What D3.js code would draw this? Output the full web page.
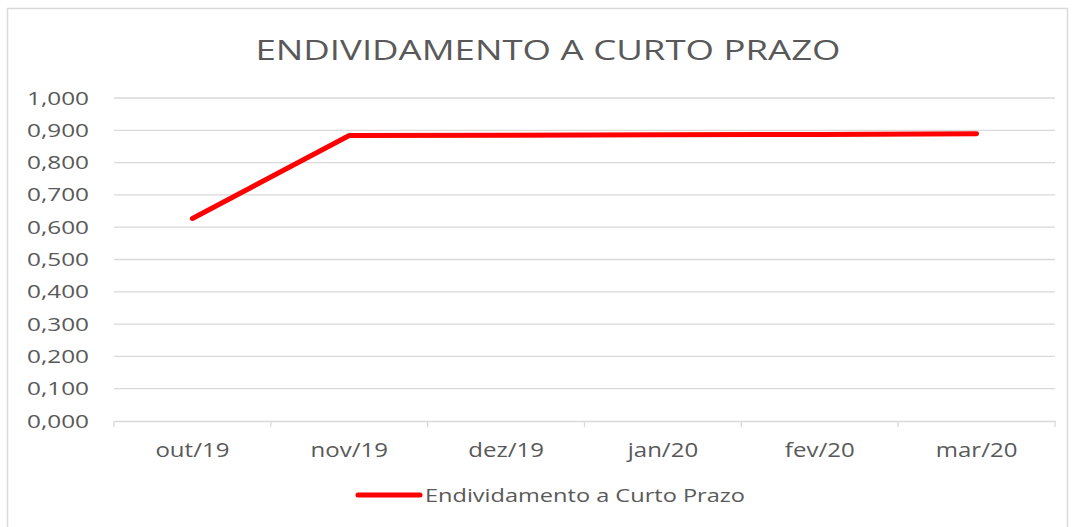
<!DOCTYPE html>
<html>
<head>
<meta charset="utf-8">
<script src="https://cdn.jsdelivr.net/npm/d3@7"></script>
<style>
  body { margin: 0; background: #fff; }
  text { font-family: "Open Sans", "Liberation Sans", sans-serif; fill: #595959; }
</style>
</head>
<body>
<script>
// Data
var months = ["out/19", "nov/19", "dez/19", "jan/20", "fev/20", "mar/20"];
var values = [0.627, 0.884, 0.885, 0.886, 0.887, 0.889];
var yTicks = [0, 0.1, 0.2, 0.3, 0.4, 0.5, 0.6, 0.7, 0.8, 0.9, 1.0];
var seriesName = "Endividamento a Curto Prazo";
var chartTitle = "ENDIVIDAMENTO A CURTO PRAZO";

var svgWidth = 1073;
var svgHeight = 527;

var margin = { top: 98, right: 18, bottom: 106, left: 114 };
var chartWidth = 1055 - margin.left;
var chartHeight = 421 - margin.top;

// the reference text looks stretched horizontally, so widen it a bit
function stretch(sel, factor) {
  sel.each(function() {
    var w = this.getComputedTextLength();
    d3.select(this)
      .attr("textLength", w * factor)
      .attr("lengthAdjust", "spacingAndGlyphs");
  });
}

var svg = d3.select("body")
  .append("svg")
  .attr("width", svgWidth)
  .attr("height", svgHeight);

// outer chart border
svg.append("rect")
  .attr("x", 7.5)
  .attr("y", 8.5)
  .attr("width", 1060)
  .attr("height", 530)
  .attr("fill", "none")
  .attr("stroke", "#d9d9d9")
  .attr("stroke-width", 1.5);

svg.append("text")
  .attr("x", 548)
  .attr("y", 60)
  .attr("text-anchor", "middle")
  .style("font-size", "27px")
  .text(chartTitle)
  .attr("textLength", 585)
  .attr("lengthAdjust", "spacingAndGlyphs");

var chartGroup = svg.append("g")
  .attr("transform", `translate(${margin.left}, ${margin.top})`);

var xScale = d3.scaleBand()
  .domain(months)
  .range([0, chartWidth]);

var yScale = d3.scaleLinear()
  .domain([0, 1])
  .range([chartHeight, 0]);

// gridlines
chartGroup.append("g")
  .selectAll("line")
  .data(yTicks.slice(1))
  .enter()
  .append("line")
  .attr("x1", 0)
  .attr("x2", chartWidth)
  .attr("y1", d => yScale(d))
  .attr("y2", d => yScale(d))
  .attr("stroke", "#d9d9d9")
  .attr("stroke-width", 1.3);

// y axis labels
var leftAxis = d3.axisLeft(yScale)
  .tickValues(yTicks)
  .tickSize(0)
  .tickPadding(25)
  .tickFormat(d => d3.format(".3f")(d).replace(".", ","));

chartGroup.append("g")
  .call(leftAxis)
  .call(g => g.select(".domain").remove())
  .selectAll("text")
  .style("font-size", "19px")
  .style("fill", "#595959")
  .call(stretch, 1.28);

// bottom axis with ticks at category boundaries
var bottomAxis = d3.axisBottom(xScale).tickSize(0).tickPadding(22);
var xAxisG = chartGroup.append("g")
  .attr("transform", `translate(0, ${chartHeight})`)
  .call(bottomAxis);
xAxisG.select(".domain").attr("stroke", "#d9d9d9").attr("stroke-width", 1.3);
xAxisG.selectAll("text")
  .style("font-size", "20px")
  .style("fill", "#595959")
  .call(stretch, 1.2);

xAxisG.selectAll(".bound")
  .data(months.map((m, i) => i === 0 ? 0 : xScale(m)).concat([chartWidth]))
  .enter()
  .append("line")
  .attr("x1", d => d)
  .attr("x2", d => d)
  .attr("y1", 0)
  .attr("y2", 6)
  .attr("stroke", "#d9d9d9")
  .attr("stroke-width", 1.3);

// the line
var line = d3.line()
  .x((d, i) => xScale(months[i]) + xScale.bandwidth() / 2)
  .y(d => yScale(d));

chartGroup.append("path")
  .datum(values)
  .attr("d", line)
  .attr("fill", "none")
  .attr("stroke", "#ff0000")
  .attr("stroke-width", 5)
  .attr("stroke-linecap", "round")
  .attr("stroke-linejoin", "round");

// legend
var legend = svg.append("g").attr("transform", "translate(358, 495)");
legend.append("line")
  .attr("x1", 0)
  .attr("x2", 62)
  .attr("y1", 0)
  .attr("y2", 0)
  .attr("stroke", "#ff0000")
  .attr("stroke-width", 5)
  .attr("stroke-linecap", "round");
legend.append("text")
  .attr("x", 67)
  .attr("y", 7)
  .style("font-size", "18px")
  .text(seriesName)
  .attr("textLength", 320)
  .attr("lengthAdjust", "spacingAndGlyphs");
</script>
</body>
</html>
